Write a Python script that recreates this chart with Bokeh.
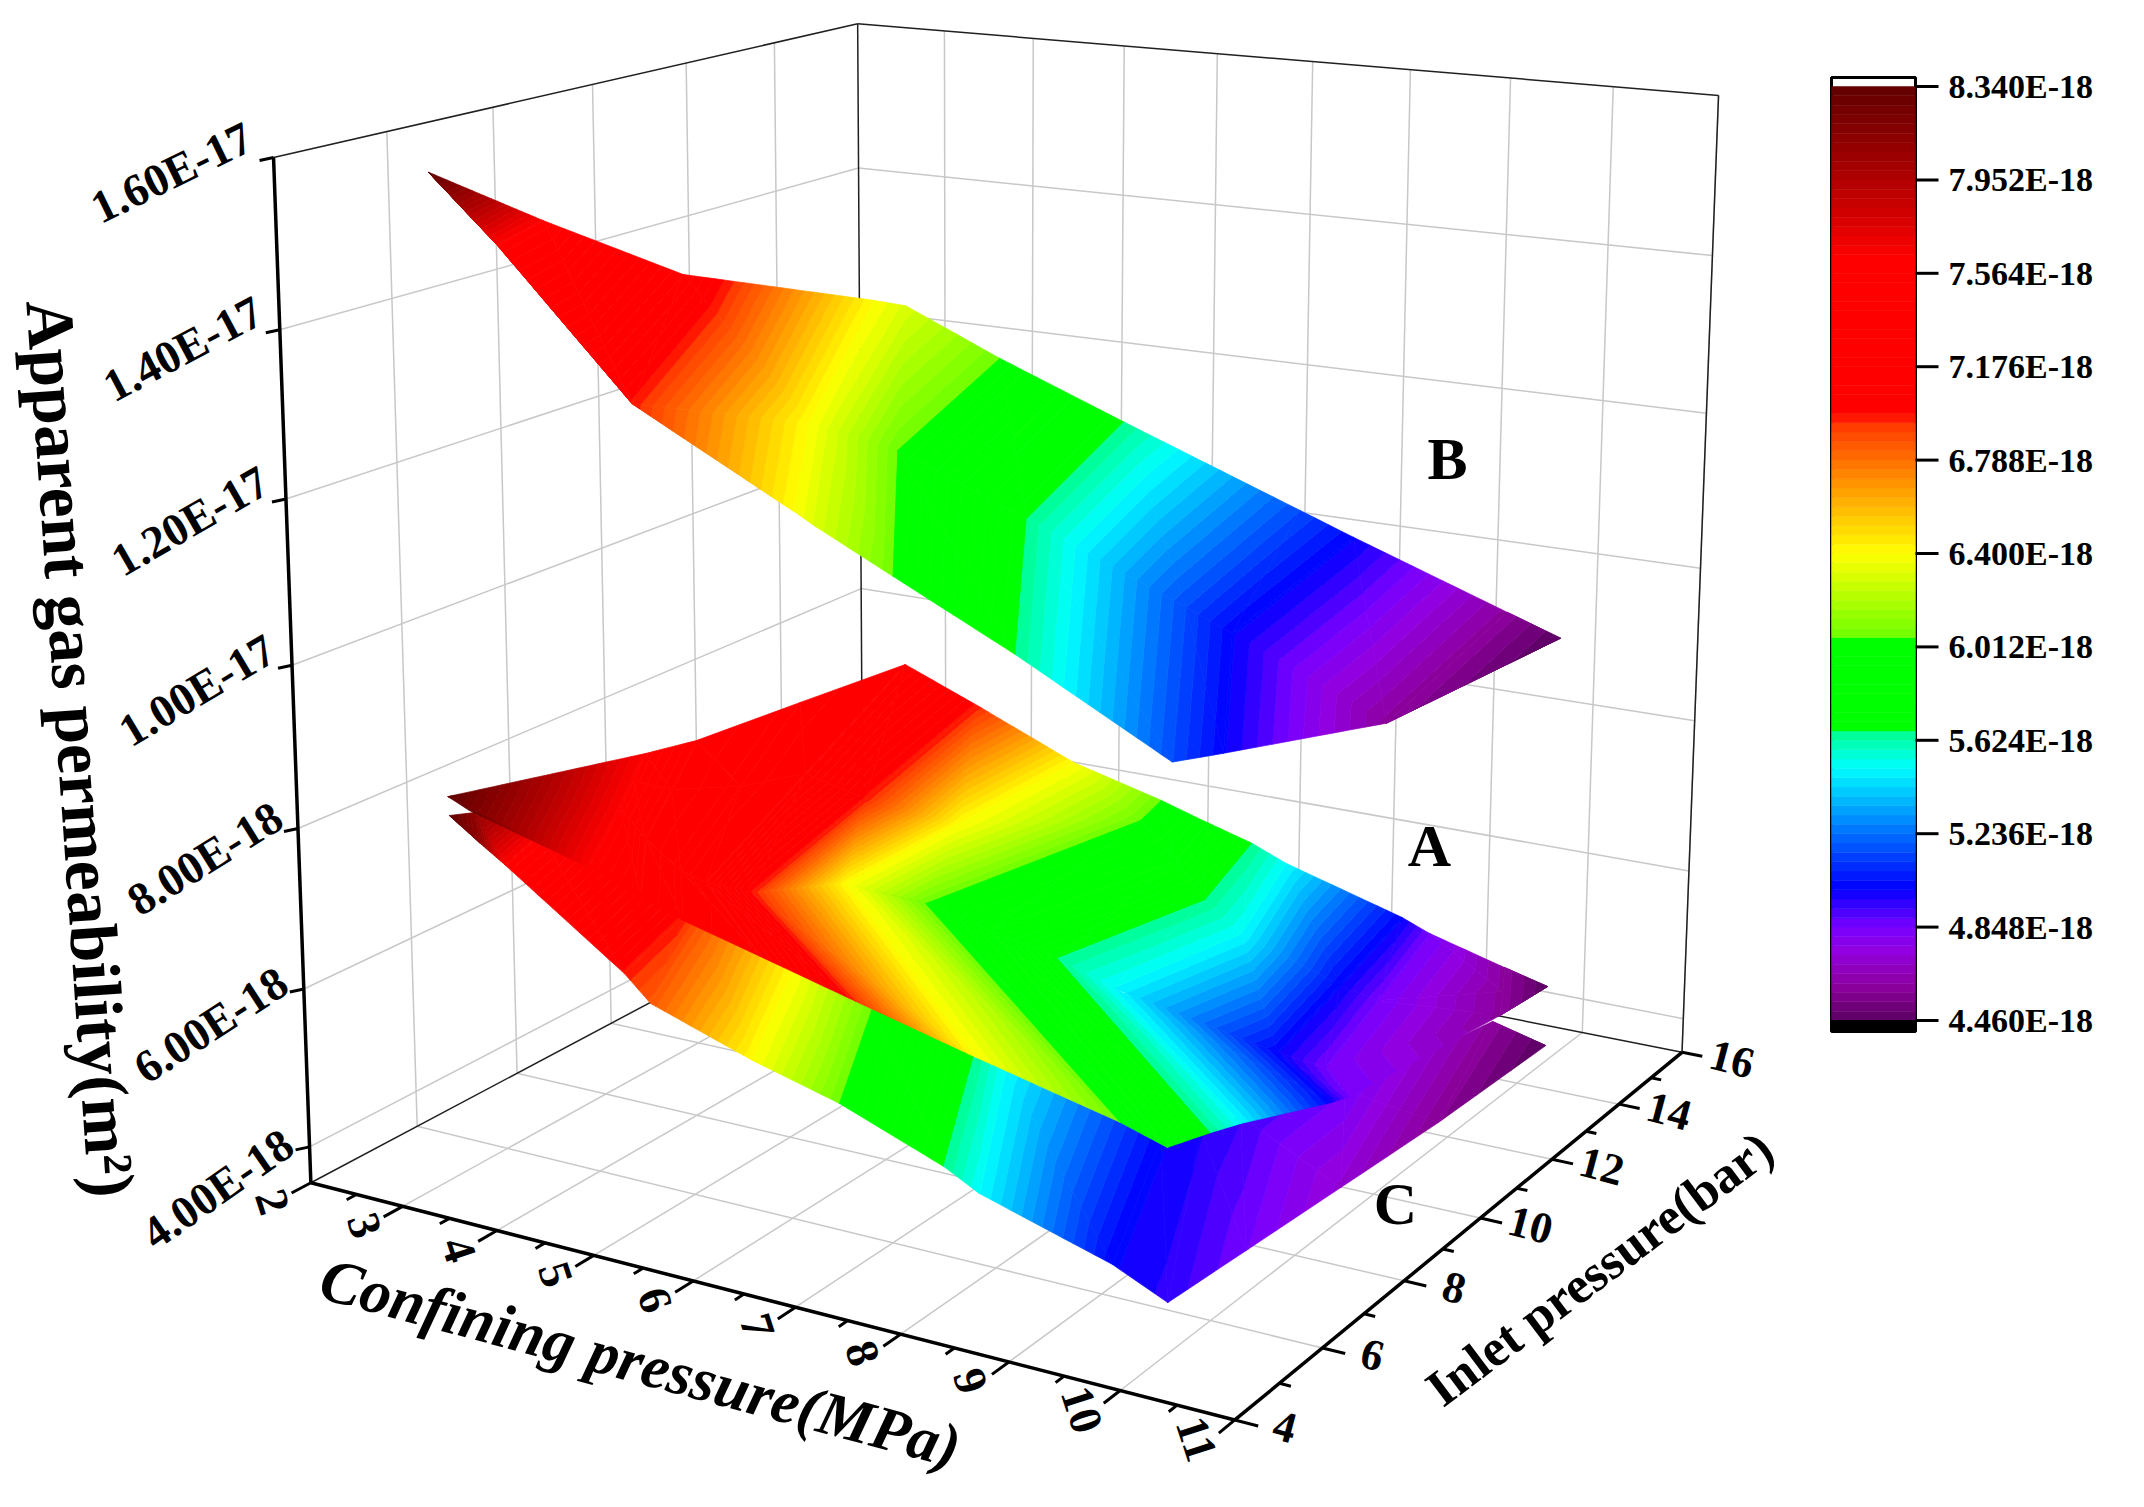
import numpy as np
from bokeh.plotting import figure
from bokeh.embed import file_html
from bokeh.resources import INLINE
from bokeh.models import Range1d
from bokeh.core.properties import value

# ---------- axis values ----------
conf_ticks = [2, 3, 4, 5, 6, 7, 8, 9, 10, 11]
inlet_ticks = [4, 6, 8, 10, 12, 14, 16]
perm_ticks = [4, 6, 8, 10, 12, 14, 16]      # 1E-18 m2
perm_labels = ["4.00E-18", "6.00E-18", "8.00E-18", "1.00E-17", "1.20E-17", "1.40E-17", "1.60E-17"]
cbar_labels = ["8.340E-18", "7.952E-18", "7.564E-18", "7.176E-18", "6.788E-18", "6.400E-18",
               "6.012E-18", "5.624E-18", "5.236E-18", "4.848E-18", "4.460E-18"]
cbar_ticks = [8.340, 7.952, 7.564, 7.176, 6.788, 6.400, 6.012, 5.624, 5.236, 4.848, 4.460]

# ---------- surface B ----------
B_conf = [[2.43,1.97,1.93,4.05,4.39,5.39,6.68,8.44,8.96,10.43,10.93],
          [2.43,3.14,4.49,4.78,5.0,5.69,6.98,8.51,8.95,10.73,10.93],
          [2.43,3.14,4.49,6.08,6.29,7.03,8.18,9.6,10.05,10.73,10.93]]
B_inlet = [[6,9,12,12,12,12,12,12,12,12,12],
           [6,6,6,9,9,9,9,9,9,8,12],
           [6,6,6,6,6,6,6,6,6,8,12]]
B_perm = [[15.57,14.43,13.21,13.17,13.15,12.62,12.01,11.2,10.96,10.31,10.09],
          [15.57,14.79,13.12,12.31,12.26,12.13,11.51,10.74,10.51,10.09,10.09],
          [15.57,14.79,13.12,12.13,11.99,11.55,10.87,9.95,10.15,10.09,10.09]]
B_color = [[8.34,7.63,7.14,6.40,6.31,6.05,5.66,5.16,5.01,4.6,4.46],
           [8.34,7.63,6.97,6.40,6.31,6.05,5.66,5.16,5.01,4.6,4.46],
           [8.34,7.63,6.97,6.40,6.31,6.05,5.66,5.16,5.01,4.6,4.46]]

# ---------- surface A ----------
A_conf = [[2.45,2.98,3.03,3.2,4.37,5.15,6.18,7.09,7.56,8.02,8.36,9.51,9.78,10.5,10.91],
          [2.45,3.37,3.26,3.26,3.98,4.63,5.64,7.49,7.84,8.14,8.5,9.46,9.82,10.82,10.91],
          [2.45,3.76,3.49,3.35,3.62,4.13,5.13,5.96,6.62,7.3,7.84,9.43,9.88,10.8,10.91],
          [2.68,3.95,4.48,4.92,5.7,6.59,7.81,9.16,9.59,9.98,10.25,10.67,10.82,10.8,10.91]]
A_inlet = [[6,9,10,12,12,12,12,12,12,12,12,12,12,12,12],
           [6,8,9,10.5,10.5,10.5,10.5,10.5,10.5,10.5,10.5,10.5,10.5,11,12],
           [6,7,8,9,9,9,9,9,9,9,9,9,9,11,12],
           [6,6,6,6,6,6,6,6,6,6,6,7,7,11,12]]
A_perm = [[7.92,7.745,7.65,7.657,8.417,8.032,7.496,7.202,7.022,6.855,6.677,6.259,6.12,5.869,5.734],
          [7.92,7.755,7.333,6.944,7.281,7.089,7.006,7.471,7.043,6.606,6.274,5.867,5.765,5.977,5.734],
          [7.92,7.78,7.039,6.284,6.191,6.185,6.548,6.493,6.313,6.132,5.904,5.519,5.455,5.672,5.734],
          [7.797,7.382,7.15,6.961,6.715,6.431,6.048,5.649,5.477,5.766,5.951,5.958,6.062,5.672,5.734]]
A_color = [8.34,7.63,7.45,7.35,7.3,6.97,6.40,6.05,5.90,5.66,5.51,5.01,4.85,4.6,4.46]

# ---------- surface C ----------
C_conf = [[2.46,2.17,2.33,1.82,2.02,3.09,3.99,5.12,5.46,7.12,7.53,7.94,8.99,10.4,10.91],
          [2.46,2.79,3.06,4.3,4.57,5.61,6.48,7.5,7.84,9.1,9.61,9.93,10.41,10.59,10.91]]
C_inlet = [[6,7,8,12,12,12,12,12,12,12,12,12,12,12,12],
           [6,6,6,6,6,6,6,6,6,6,6,7,8,10,12]]
C_perm = [[7.683,7.362,6.804,4.346,4.268,3.905,3.621,3.259,3.158,2.654,2.91,3.23,3.862,5.151,4.98],
          [7.683,7.406,7.191,6.14,5.833,5.403,5.113,4.632,4.405,3.927,3.63,3.967,4.497,4.619,4.98]]
C_color = [[8.34,8.1,7.63,6.97,6.85,6.40,6.05,5.66,5.51,5.01,4.97,4.93,4.85,4.6,4.46],
           [8.34,8.1,7.63,6.97,6.85,6.40,6.05,5.66,5.51,5.01,4.95,4.85,4.72,4.58,4.46]]

# ---------- camera of the 3D box ----------
ZLO, ZHI = 3.54, 16.0
XLO, XHI, YLO, YHI = 2, 11, 4, 16
CAM = np.array([[0.885921,0.612325,-0.042542,-0.089405],
                [0.080224,-0.104316,-0.848945,1.536212],
                [-0.133514,0.163955,-0.04353,1.0]])

def proj(x, y, z):
    x = np.asarray(x, float); y = np.asarray(y, float); z = np.asarray(z, float)
    X = np.array([x/10, y/10, z/10, np.ones_like(x)])
    w = CAM[2] @ X
    return 1000*(CAM[0] @ X)/w, 1000*(CAM[1] @ X)/w

# ---------- colour map ----------
stops = [(4.46,'#5a0060'),(4.6,'#8c009c'),(4.75,'#9000e0'),(4.85,'#7800ff'),(5.01,'#0000ff'),(5.24,'#0070ff'),
         (5.51,'#00ffff'),(5.66,'#00ff90'),(5.665,'#00ff00'),(6.05,'#00ff00'),(6.055,'#70ff00'),(6.40,'#ffff00'),
         (6.96,'#ff3000'),(6.965,'#ff0000'),(7.63,'#ff0000'),(7.95,'#b00000'),(8.34,'#600000')]
sc = np.array([s[0] for s in stops])
rgb = np.array([[int(s[1][i:i+2], 16) for i in (1, 3, 5)] for s in stops], float)
def cmap(c):
    return "#%02x%02x%02x" % tuple(int(round(np.interp(c, sc, rgb[:, i]))) for i in range(3))
NB = 100
levels = [4.46 + (8.34-4.46)/NB*k for k in range(NB+1)]
bandcol = [cmap((levels[k]+levels[k+1])/2) for k in range(NB)]

p = figure(width=2136, height=1499, x_range=Range1d(0, 2136), y_range=Range1d(1499, 0),
           toolbar_location=None, output_backend="svg", min_border=0, outline_line_color=None,
           background_fill_color="white")
p.axis.visible = False
p.grid.visible = False

GRID = "#c8c8c8"
def seg(a, b, color, w):
    u, v = proj([a[0], b[0]], [a[1], b[1]], [a[2], b[2]])
    p.line(u.tolist(), v.tolist(), line_color=color, line_width=w)

for x in conf_ticks[1:]:
    seg((x, YLO, ZLO), (x, YHI, ZLO), GRID, 1.5)
    seg((x, YHI, ZLO), (x, YHI, ZHI), GRID, 1.5)
for y in inlet_ticks[:-1]:
    seg((XLO, y, ZLO), (XHI, y, ZLO), GRID, 1.5)
    seg((XLO, y, ZLO), (XLO, y, ZHI), GRID, 1.5)
for z in perm_ticks[:-1]:
    seg((XLO, YLO, z), (XLO, YHI, z), GRID, 1.5)
    seg((XLO, YHI, z), (XHI, YHI, z), GRID, 1.5)
for a, b in [((XLO,YLO,ZHI),(XLO,YHI,ZHI)), ((XLO,YHI,ZHI),(XHI,YHI,ZHI)), ((XLO,YHI,ZLO),(XLO,YHI,ZHI)),
             ((XHI,YHI,ZLO),(XHI,YHI,ZHI)), ((XLO,YLO,ZLO),(XLO,YHI,ZLO)), ((XLO,YHI,ZLO),(XHI,YHI,ZLO))]:
    seg(a, b, "#202020", 1.5)
for a, b in [((XLO,YLO,ZLO),(XLO,YLO,ZHI)), ((XLO,YLO,ZLO),(XHI,YLO,ZLO)), ((XHI,YLO,ZLO),(XHI,YHI,ZLO))]:
    seg(a, b, "black", 3.5)
for i, x in enumerate(np.arange(XLO, XHI+0.01, 0.5)):
    seg((x, YLO, ZLO), (x, YLO-(0.35 if i % 2 == 0 else 0.18), ZLO), "black", 3)
for i, y in enumerate(range(YLO, YHI+1)):
    seg((XHI, y, ZLO), (XHI+(0.2 if i % 2 == 0 else 0.1), y, ZLO), "black", 3)
for z in perm_ticks:
    u, v = proj(XLO, YLO, z)
    p.line([float(u)-14, float(u)], [float(v)+3, float(v)], line_color="black", line_width=3)

def clip(poly, lo, hi):
    def cut(pl, f):
        out = []
        for i in range(len(pl)):
            a, b = pl[i], pl[(i+1) % len(pl)]
            fa, fb = f(a), f(b)
            if fa >= 0:
                out.append(a)
            if fa*fb < 0:
                t = fa/(fa-fb)
                out.append(tuple(a[k]+t*(b[k]-a[k]) for k in range(3)))
        return out
    pl = cut(poly, lambda q: q[2]-lo)
    if pl:
        pl = cut(pl, lambda q: hi-q[2])
    return pl

def surface(conf, inl, perm, cc):
    UV = [proj(conf[r], inl[r], perm[r]) for r in range(len(conf))]
    xs, ys, cols = [], [], []
    for r in range(len(conf)-1):
        for j in range(len(conf[0])-1):
            q = [(UV[r][0][j], UV[r][1][j], cc[r][j]), (UV[r][0][j+1], UV[r][1][j+1], cc[r][j+1]),
                 (UV[r+1][0][j+1], UV[r+1][1][j+1], cc[r+1][j+1]), (UV[r+1][0][j], UV[r+1][1][j], cc[r+1][j])]
            for tri in ([q[0], q[1], q[2]], [q[0], q[2], q[3]]):
                for k in range(NB):
                    lo, hi = levels[k], levels[k+1]
                    if k == 0: lo -= 1
                    if k == NB-1: hi += 1
                    pl = clip(tri, lo, hi)
                    if len(pl) >= 3:
                        xs.append([round(float(t[0]), 1) for t in pl])
                        ys.append([round(float(t[1]), 1) for t in pl])
                        cols.append(bandcol[k])
    p.patches(xs, ys, fill_color=cols, line_color=cols, line_width=0.7)

surface(B_conf, B_inlet, B_perm, B_color)
surface(C_conf, C_inlet, C_perm, C_color)
surface(A_conf, A_inlet, A_perm, [A_color]*4)

# ---------- colour bar ----------
cy = lambda c: 86 + (8.34-c)/0.388*93.4
BX0, BX1 = 1831, 1915
p.quad(left=[BX0], right=[BX1], top=[77], bottom=[1031], fill_color="white", line_color="black", line_width=3)
p.quad(left=[BX0]*NB, right=[BX1]*NB, top=[cy(levels[k+1]) for k in range(NB)], bottom=[cy(levels[k]) for k in range(NB)],
       fill_color=bandcol, line_color=bandcol, line_width=0.5)
p.quad(left=[BX0], right=[BX1], top=[cy(4.46)], bottom=[1031], fill_color="black", line_color="black")
for c in cbar_ticks:
    p.line([BX1, 1938], [cy(c), cy(c)], line_color="black", line_width=3)

FONT = value("Liberation Serif")
p.text([1948]*11, [cy(c) for c in cbar_ticks], text=cbar_labels, text_font=FONT, text_font_style="bold",
       text_font_size="34px", text_baseline="middle", text_color="black")

def T(xs, ys, txt, size, ang, style="bold"):
    p.text(xs, ys, text=txt, angle=ang, angle_units="deg", text_font=FONT, text_font_style=style,
           text_font_size=size, text_align="center", text_baseline="middle", text_color="black")

zoff = [(-92,42),(-93,36),(-93,30),(-95,25),(-96,22),(-97,19),(-102,15)]
zang = [35,33,32,31,30,28,26]
u, v = proj([XLO]*7, [YLO]*7, perm_ticks)
T([float(a)+o[0] for a, o in zip(u, zoff)], [float(b)+o[1] for b, o in zip(v, zoff)], perm_labels, "46px", zang)
u, v = proj(conf_ticks, [YLO]*10, [ZLO]*10)
T([float(a)-38 for a in u], [float(b)+19 for b in v], [str(x) for x in conf_ticks], "46px", [-72]*10)
u, v = proj([XHI]*7, inlet_ticks, [ZLO]*7)
T([float(a)+50 for a in u], [float(b)+7 for b in v], [str(y) for y in inlet_ticks], "44px", [-15]*7)

T([80], [748], ["Apparent gas permeability(m²)"], "68px", [-86])
T([640], [1362], ["Confining pressure(MPa)"], "62px", [-15], "bold italic")
T([1599], [1268], ["Inlet pressure(bar)"], "52px", [37])
T([1447, 1429, 1395], [458, 845, 1203], ["B", "A", "C"], "60px", [0, 0, 0])

open("out.html", "w").write(file_html(p, INLINE))
